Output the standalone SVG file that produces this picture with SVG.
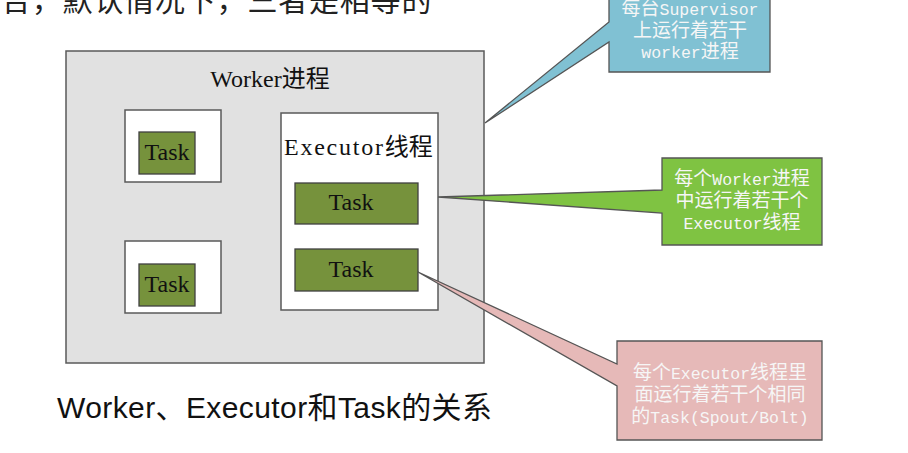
<svg xmlns="http://www.w3.org/2000/svg" width="908" height="453" viewBox="0 0 908 453">
<style>
.box{stroke:#5a5a5a;stroke-width:1.5}
.worker{fill:#e1e1e1}
.white{fill:#ffffff}
.task{fill:#76923c;stroke:#404040;stroke-width:1.3}
.lbl{font-family:"Liberation Serif","Noto Sans CJK SC",serif;font-size:24px;fill:#111}
.call{stroke:#555;stroke-width:1.3}
.ct{font-family:"Liberation Mono","Noto Sans CJK SC",monospace;font-size:19px;fill:#f6f6f6;text-anchor:middle}
.lat{font-size:16.5px}
</style>
<rect width="908" height="453" fill="#ffffff"/>
<text id="toptext" x="1" y="11" font-family="'Noto Sans CJK SC',sans-serif" font-size="30" letter-spacing="0.8" fill="#222">合，默认情况下，三者是相等的</text>

<g id="worker">
<rect class="box worker" x="66" y="51" width="418" height="312"/>
<text class="lbl" x="270" y="87" text-anchor="middle">Worker进程</text>
</g>
<g id="box1">
<rect class="box white" x="125" y="110" width="96" height="72"/>
<rect class="task" x="139" y="132" width="56" height="42"/>
<text class="lbl" x="167" y="160" text-anchor="middle">Task</text>
</g>
<g id="box2">
<rect class="box white" x="125" y="241" width="96" height="72"/>
<rect class="task" x="139" y="264" width="56" height="42"/>
<text class="lbl" x="167" y="292" text-anchor="middle">Task</text>
</g>
<g id="executor">
<rect class="box white" x="281" y="113" width="157" height="197"/>
<text class="lbl" x="284" y="155"><tspan textLength="99" lengthAdjust="spacing">Executor</tspan>线程</text>
</g>
<g id="task3">
<rect class="task" x="295" y="183" width="123" height="41"/>
<text class="lbl" x="351" y="210" text-anchor="middle">Task</text>
</g>
<g id="task4">
<rect class="task" x="295" y="249" width="123" height="42"/>
<text class="lbl" x="351" y="277" text-anchor="middle">Task</text>
</g>

<g id="connectors">
<g id="callout-blue">
<path class="call" fill="#80c1d3" d="M609,-10 H770 V72 H609 V42 L485,123 L609,22 Z"/>
<text class="ct" x="690" y="15">每台<tspan class="lat">Supervisor</tspan></text>
<text class="ct" x="690" y="37">上运行着若干</text>
<text class="ct" x="690" y="58"><tspan class="lat">worker</tspan>进程</text>
</g>
<g id="callout-green">
<path class="call" fill="#7fc342" d="M662,158 H822 V245 H662 V213 L438,197 L662,190 Z"/>
<text class="ct" x="742" y="185">每个<tspan class="lat">Worker</tspan>进程</text>
<text class="ct" x="742" y="207">中运行着若干个</text>
<text class="ct" x="742" y="229"><tspan class="lat">Executor</tspan>线程</text>
</g>
<g id="callout-pink">
<path class="call" fill="#e6b9b8" d="M617,341 H822 V440 H617 V386 L418,272 L617,364 Z"/>
<text class="ct" x="720" y="379">每个<tspan class="lat">Executor</tspan>线程里</text>
<text class="ct" x="720" y="401">面运行着若干个相同</text>
<text class="ct" x="720" y="423">的<tspan class="lat">Task(Spout/Bolt)</tspan></text>
</g>
</g>

<text id="title" x="57" y="418" font-family="'Liberation Sans','Noto Sans CJK SC',sans-serif" font-size="30" textLength="435" lengthAdjust="spacing" fill="#111">Worker、Executor和Task的关系</text>
</svg>
